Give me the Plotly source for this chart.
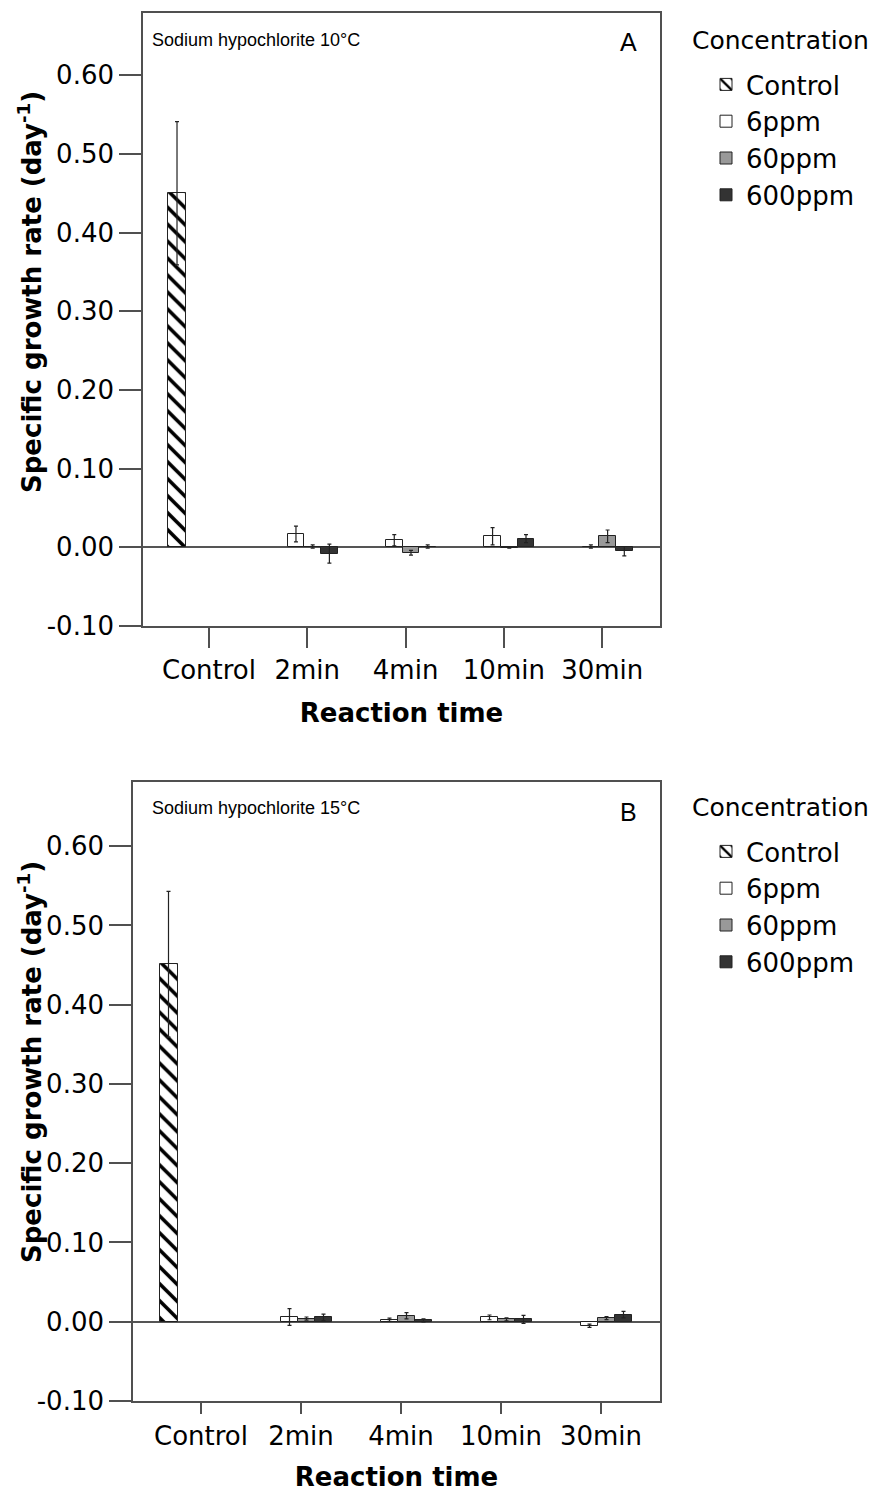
import plotly.graph_objects as go

# ---------------- data ----------------
categories = ["Control", "2min", "4min", "10min", "30min"]
treat_times = ["2min", "4min", "10min", "30min"]
series_names = ["Control", "6ppm", "60ppm", "600ppm"]
y_tick_vals = [-0.10, 0.00, 0.10, 0.20, 0.30, 0.40, 0.50, 0.60]
y_tick_text = ["-0.10", "0.00", "0.10", "0.20", "0.30", "0.40", "0.50", "0.60"]

# Panel A : Sodium hypochlorite 10°C
control_A = [0.450]
control_err_A = [0.091]
ppm6_A = [0.017, 0.009, 0.014, 0.001]
ppm6_err_A = [0.010, 0.007, 0.011, 0.002]
ppm60_A = [0.001, -0.007, -0.001, 0.014]
ppm60_err_A = [0.002, 0.003, 0.000, 0.008]
ppm600_A = [-0.008, 0.001, 0.011, -0.005]
ppm600_err_A = [0.012, 0.002, 0.005, 0.006]

# Panel B : Sodium hypochlorite 15°C
control_B = [0.451]
control_err_B = [0.092]
ppm6_B = [0.006, 0.0025, 0.0055, -0.005]
ppm6_err_B = [0.0105, 0.002, 0.003, 0.002]
ppm60_B = [0.004, 0.0075, 0.003, 0.0046]
ppm60_err_B = [0.002, 0.004, 0.002, 0.002]
ppm600_B = [0.0055, 0.0017, 0.003, 0.009]
ppm600_err_B = [0.004, 0.002, 0.005, 0.004]

# ---------------- styles ----------------
W, H = 884, 1492
MAIN_FONT = "DejaVu Sans"
ANN_FONT = "Liberation Sans, Arial"
LINE_COL = "#505050"
EDGE_COL = "#222222"

series_style = {
    "Control": dict(color="white", pattern=dict(shape="\\", fgcolor="black", bgcolor="white",
                                               fgopacity=1, size=12, solidity=0.3,
                                               fillmode="replace"),
                    offset=-0.415, width=0.18),
    "6ppm": dict(color="white", pattern=None, offset=-0.20, width=0.17),
    "60ppm": dict(color="#999999", pattern=None, offset=-0.03, width=0.17),
    "600ppm": dict(color="#333333", pattern=None, offset=0.14, width=0.17),
}


def px_x(p):
    return p / W


def px_y(p):
    return 1 - p / H


fig = go.Figure()


def add_panel(xref, yref, legend_name, data):
    for name, (xs, ys, errs) in zip(series_names, data):
        st = series_style[name]
        marker = dict(color=st["color"], opacity=1, line=dict(color=EDGE_COL, width=1))
        if st["pattern"] is not None:
            marker["pattern"] = st["pattern"]
        fig.add_trace(go.Bar(
            x=xs, y=ys, name=name,
            xaxis=xref, yaxis=yref,
            legend=legend_name, legendgroup=legend_name + name,
            offset=st["offset"], width=st["width"],
            marker=marker,
            error_y=dict(type="data", array=errs, visible=True,
                         color=EDGE_COL, thickness=1.2, width=2),
        ))


add_panel("x", "y", "legend", [
    (["Control"], control_A, control_err_A),
    (treat_times, ppm6_A, ppm6_err_A),
    (treat_times, ppm60_A, ppm60_err_A),
    (treat_times, ppm600_A, ppm600_err_A),
])
add_panel("x2", "y2", "legend2", [
    (["Control"], control_B, control_err_B),
    (treat_times, ppm6_B, ppm6_err_B),
    (treat_times, ppm60_B, ppm60_err_B),
    (treat_times, ppm600_B, ppm600_err_B),
])

xaxis_common = dict(
    type="category", categoryorder="array", categoryarray=categories,
    showline=True, mirror=True, linecolor=LINE_COL, linewidth=1.6,
    ticks="outside", tickwidth=1.5, tickcolor=LINE_COL,
    tickfont=dict(family=MAIN_FONT, size=26, color="black"),
    showgrid=False, zeroline=False,
    title=dict(text="<b>Reaction time</b>", font=dict(family=MAIN_FONT, size=26, color="black"),
               standoff=20),
)
yaxis_common = dict(
    showline=True, mirror=True, linecolor=LINE_COL, linewidth=1.6,
    ticks="outside", ticklen=22, tickwidth=1.5, tickcolor=LINE_COL,
    tickvals=y_tick_vals, ticktext=y_tick_text,
    tickfont=dict(family=MAIN_FONT, size=26, color="black"),
    showgrid=False, zeroline=True, zerolinecolor="#555555", zerolinewidth=1.5,
)

legend_common = dict(
    font=dict(family=MAIN_FONT, size=26, color="black"),
    bgcolor="rgba(0,0,0,0)", borderwidth=0, tracegroupgap=0,
    xanchor="left", yanchor="top", traceorder="normal",
)

fig.update_layout(
    width=W, height=H,
    margin=dict(l=0, r=0, t=0, b=0, autoexpand=False),
    paper_bgcolor="white", plot_bgcolor="white",
    barmode="overlay", bargap=0,
    showlegend=True,
    xaxis=dict(domain=[px_x(143), px_x(660)], anchor="y", range=[-0.671, 4.588], ticklen=20,
               **xaxis_common),
    yaxis=dict(domain=[px_y(626), px_y(13)], anchor="x", range=[-0.10, 0.679], **yaxis_common),
    xaxis2=dict(domain=[px_x(133), px_x(660)], anchor="y2", range=[-0.68, 4.59], ticklen=11,
                **xaxis_common),
    yaxis2=dict(domain=[px_y(1401), px_y(782)], anchor="x2", range=[-0.10, 0.681], **yaxis_common),
    legend=dict(x=px_x(706), y=px_y(61), **legend_common),
    legend2=dict(x=px_x(706), y=px_y(828), **legend_common),
)

ytitle = "<b>Specific growth rate (day<sup>-1</sup>)</b>"
annotations = [
    dict(text=ytitle, x=px_x(30), y=px_y(292), textangle=-90, xanchor="center",
         font=dict(family=MAIN_FONT, size=26, color="black")),
    dict(text=ytitle, x=px_x(30), y=px_y(1062), textangle=-90, xanchor="center",
         font=dict(family=MAIN_FONT, size=26, color="black")),
    dict(text="Concentration", x=px_x(690), y=px_y(41), xanchor="left",
         font=dict(family=MAIN_FONT, size=25, color="black")),
    dict(text="Concentration", x=px_x(690), y=px_y(807), xanchor="left",
         font=dict(family=MAIN_FONT, size=25, color="black")),
    dict(text="Sodium hypochlorite 10°C", x=px_x(150), y=px_y(40), xanchor="left",
         font=dict(family=ANN_FONT, size=18, color="black")),
    dict(text="A", x=px_x(628), y=px_y(42), xanchor="center",
         font=dict(family=ANN_FONT, size=25, color="black")),
    dict(text="Sodium hypochlorite 15°C", x=px_x(150), y=px_y(808), xanchor="left",
         font=dict(family=ANN_FONT, size=18, color="black")),
    dict(text="B", x=px_x(628), y=px_y(812), xanchor="center",
         font=dict(family=ANN_FONT, size=25, color="black")),
]
for a in annotations:
    a.update(xref="paper", yref="paper", showarrow=False, yanchor="middle")

fig.update_layout(annotations=annotations)

fig.write_html("out.html")
